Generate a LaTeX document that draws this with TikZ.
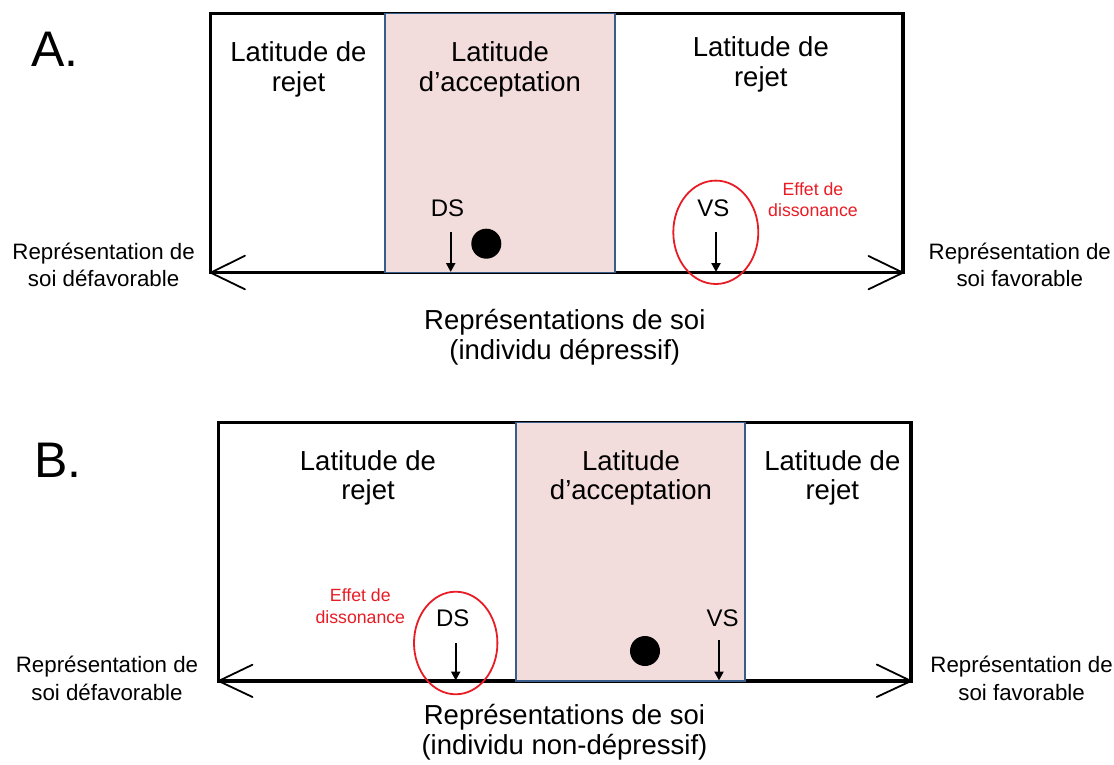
\documentclass[tikz,border=0pt]{standalone}
\usepackage{fontspec}
\setmainfont{Liberation Sans}
\usetikzlibrary{arrows.meta}
\definecolor{pinkfill}{RGB}{243,221,220}
\definecolor{blueline}{RGB}{56,93,138}
\definecolor{redline}{RGB}{232,28,36}
\tikzset{
  maintxt/.style={font=\fontsize{27.5}{30}\selectfont, inner sep=0pt, anchor=base},
  sidetxt/.style={font=\fontsize{22.3}{27}\selectfont, inner sep=0pt, anchor=base},
  marktxt/.style={font=\fontsize{24}{28}\selectfont, inner sep=0pt, anchor=base},
  redtxt/.style={font=\fontsize{17.7}{21}\selectfont, text=redline, inner sep=0pt, anchor=base},
  lettertxt/.style={font=\fontsize{50}{56}\selectfont, inner sep=0pt, anchor=base west},
  frame/.style={draw=black, line width=3.2pt},
  accbox/.style={fill=pinkfill, draw=blueline, line width=1.5pt},
  chevron/.style={draw=black, line width=1.8pt, line cap=round, line join=round},
  downarrow/.style={draw=black, line width=2.4pt, -{Triangle[length=9pt,width=9pt]}},
  dissring/.style={draw=redline, line width=1.8pt},
}
\begin{document}
\begin{tikzpicture}[x=1pt,y=-1pt]
\useasboundingbox (0,0) rectangle (1114,765);

% ---------------- Panel A ----------------
\node[lettertxt] (letA) at (31.4,66.3) {A.};
\draw[frame] (210.7,13.3) rectangle (903,272.7);
\draw[accbox] (385,13.3) rectangle (615,272.7);
\draw[chevron] (245,255.7) -- (210.7,272.7) -- (245,289.3);
\draw[chevron] (868.5,256) -- (903,272.7) -- (868.5,289.3);

\node[maintxt] (rejLA1) at (298.5,62) {Latitude de};
\node[maintxt] (rejLA2) at (298.5,91.6) {rejet};
\node[maintxt] (accA1) at (500,62) {Latitude};
\node[maintxt] (accA2) at (500,91.6) {d’acceptation};
\node[maintxt] (rejRA1) at (760.8,57) {Latitude de};
\node[maintxt] (rejRA2) at (760.8,86.6) {rejet};

\node[marktxt] (dsA) at (447.5,216) {DS};
\coordinate (dsAtop) at (450.7,232);
\coordinate (dsAtip) at (450.7,272);
\draw[downarrow] (dsAtop) -- (dsAtip);
\fill (486.3,243.7) circle [radius=15pt];

\node[marktxt] (vsA) at (713.3,216) {VS};
\coordinate (vsAtop) at (716,232);
\coordinate (vsAtip) at (716,272);
\draw[downarrow] (vsAtop) -- (vsAtip);
\draw[dissring] (715.8,232.3) ellipse [x radius=42.5pt, y radius=51.7pt];
\node[redtxt] (effA1) at (813,196) {Effet de};
\node[redtxt] (effA2) at (813,216.7) {dissonance};

\node[sidetxt] (sideLA1) at (103.6,259.7) {Représentation de};
\node[sidetxt] (sideLA2) at (103.6,286.5) {soi défavorable};
\node[sidetxt] (sideRA1) at (1019.8,259.7) {Représentation de};
\node[sidetxt] (sideRA2) at (1019.8,286.5) {soi favorable};

\node[maintxt] (capA1) at (564.8,329.7) {Représentations de soi};
\node[maintxt] (capA2) at (564.8,359.2) {(individu dépressif)};

% ---------------- Panel B ----------------
\node[lettertxt] (letB) at (34,477) {B.};
\draw[frame] (218.6,422.3) rectangle (911,681);
\draw[accbox] (516,422.3) rectangle (745,681);
\draw[chevron] (252.5,664.7) -- (218.6,681) -- (252.5,697);
\draw[chevron] (876.7,664.5) -- (911,681) -- (876.7,697);

\node[maintxt] (rejLB1) at (368,470.3) {Latitude de};
\node[maintxt] (rejLB2) at (368,499.9) {rejet};
\node[maintxt] (accB1) at (631,470.3) {Latitude};
\node[maintxt] (accB2) at (631,499.9) {d’acceptation};
\node[maintxt] (rejRB1) at (832.3,470.3) {Latitude de};
\node[maintxt] (rejRB2) at (832.3,499.9) {rejet};

\node[marktxt] (dsB) at (452.7,626) {DS};
\coordinate (dsBtop) at (455.7,643);
\coordinate (dsBtip) at (455.7,680.5);
\draw[downarrow] (dsBtop) -- (dsBtip);
\draw[dissring] (455.7,643) ellipse [x radius=41.7pt, y radius=51.3pt];
\node[redtxt] (effB1) at (360.3,601.7) {Effet de};
\node[redtxt] (effB2) at (360.3,623.3) {dissonance};

\fill (645,651) circle [radius=15pt];
\node[marktxt] (vsB) at (722.5,626) {VS};
\coordinate (vsBtop) at (719,640);
\coordinate (vsBtip) at (719,680.5);
\draw[downarrow] (vsBtop) -- (vsBtip);

\node[sidetxt] (sideLB1) at (107,672.5) {Représentation de};
\node[sidetxt] (sideLB2) at (107,700.5) {soi défavorable};
\node[sidetxt] (sideRB1) at (1021.6,672) {Représentation de};
\node[sidetxt] (sideRB2) at (1021.6,700) {soi favorable};

\node[maintxt] (capB1) at (564.5,724.7) {Représentations de soi};
\node[maintxt] (capB2) at (564.5,754) {(individu non-dépressif)};
\end{tikzpicture}
\end{document}
